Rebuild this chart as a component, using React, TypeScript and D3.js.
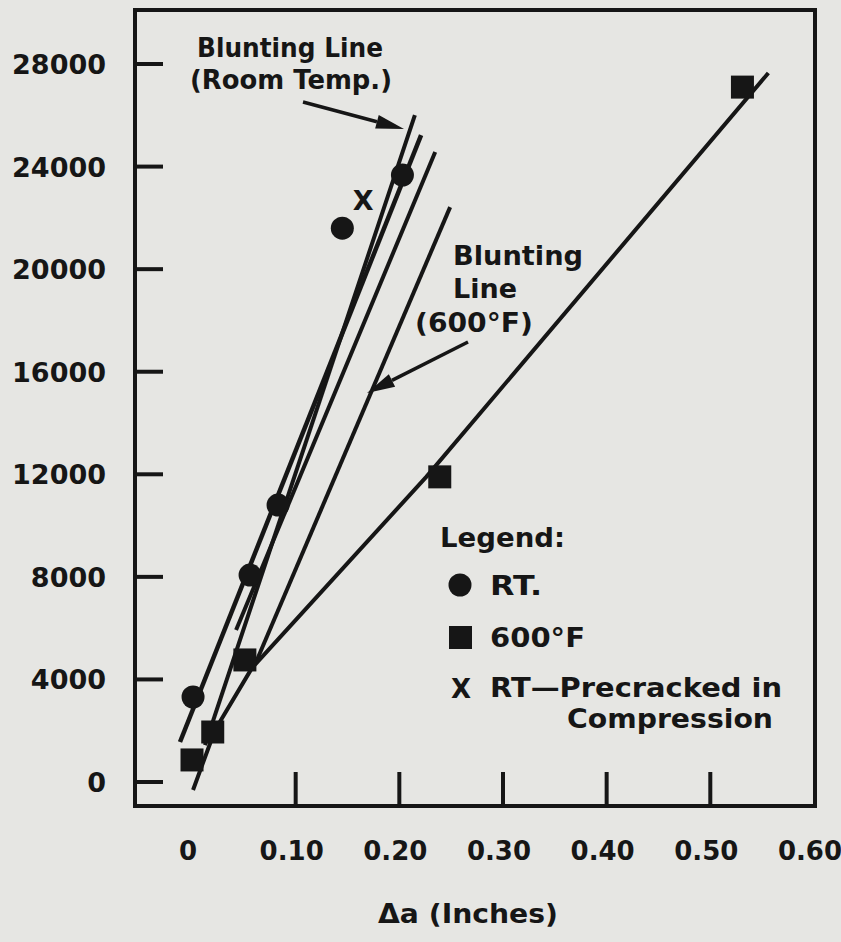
import React from 'react';
import * as d3 from 'd3';

// ---- data ----
const xTickValues = [0, 0.1, 0.2, 0.3, 0.4, 0.5, 0.6];
const xTickLabels = ['0', '0.10', '0.20', '0.30', '0.40', '0.50', '0.60'];
const xMarkedTicks = [0.1, 0.2, 0.3, 0.4, 0.5];
const yTickValues = [0, 4000, 8000, 12000, 16000, 20000, 24000, 28000];
const yTickLabels = ['0', '4000', '8000', '12000', '16000', '20000', '24000', '28000'];

const rtX = [0.001, 0.056, 0.083, 0.145, 0.203];
const rtY = [3315, 8070, 10800, 21600, 23670];
const f600X = [0.0, 0.02, 0.051, 0.239, 0.531];
const f600Y = [860, 1950, 4760, 11900, 27100];
const rtPcX = [0.165];
const rtPcY = [22700];

const rtBluntX = [0.0125, 0.215];
const rtBluntY = [1440, 26010];
const rtFitX = [-0.0116, 0.221];
const rtFitY = [1560, 25230];
const rtFit2X = [0.0425, 0.2346];
const rtFit2Y = [5930, 24570];
const f600BluntX = [0.0618, 0.249];
const f600BluntY = [4680, 22420];
const f600CurveX = [0.001, 0.0222, 0.0579, 0.226, 0.556];
const f600CurveY = [-310, 2030, 4450, 11900, 27650];

// ---- layout ----
const W = 841;
const H = 942;
const L = 135, R = 815, T = 10, B = 806;
const INK = '#161616';
const BG = '#e6e6e3';
const FONT = '"DejaVu Sans", Arial, sans-serif';

const x = d3.scaleLinear().domain([-0.055, 0.601]).range([L, R]);
const y = d3.scaleLinear().domain([-936, 30107]).range([B, T]);

const line = d3.line<[number, number]>().x(d => x(d[0])).y(d => y(d[1]));

const zip = (a: number[], b: number[]) => a.map((v, i) => [v, b[i]] as [number, number]);

function Arrow({ x1, y1, x2, y2 }: { x1: number; y1: number; x2: number; y2: number }) {
  const ang = Math.atan2(y2 - y1, x2 - x1);
  const len = 28;
  const hw = 7;
  const bx = x2 - len * Math.cos(ang);
  const by = y2 - len * Math.sin(ang);
  const px = -Math.sin(ang) * hw;
  const py = Math.cos(ang) * hw;
  return (
    <g>
      <line x1={x1} y1={y1} x2={bx} y2={by} stroke={INK} strokeWidth={3.5} />
      <polygon points={`${x2},${y2} ${bx + px},${by + py} ${bx - px},${by - py}`} fill={INK} />
    </g>
  );
}

export default function App() {
  const txt = { fontFamily: FONT, fontWeight: 700, fontSize: 26, fill: INK } as const;
  return (
    <svg
      width={W}
      height={H}
      viewBox={`0 0 ${W} ${H}`}
      style={{ position: 'absolute', left: 0, top: 0, display: 'block' }}
    >
      <rect x={0} y={0} width={W} height={H} fill={BG} />

      {/* frame */}
      <rect x={L} y={T} width={R - L} height={B - T} fill="none" stroke={INK} strokeWidth={4} />

      {/* y ticks */}
      {yTickValues.map((v, i) => (
        <g key={'y' + v}>
          <line x1={L} x2={L + 28} y1={y(v)} y2={y(v)} stroke={INK} strokeWidth={4} />
          <text {...txt} fontSize={27} x={106} y={y(v) + 10} textAnchor="end">
            {yTickLabels[i]}
          </text>
        </g>
      ))}

      {/* x ticks */}
      {xMarkedTicks.map(v => (
        <line key={'xt' + v} x1={x(v)} x2={x(v)} y1={B} y2={B - 34} stroke={INK} strokeWidth={4} />
      ))}
      {xTickValues.map((v, i) => (
        <text key={'xl' + v} {...txt} fontSize={26} x={x(v) - 4} y={860} textAnchor="middle">
          {xTickLabels[i]}
        </text>
      ))}
      <text {...txt} fontWeight={600} fontSize={26} x={378} y={923} textLength={180} lengthAdjust="spacingAndGlyphs">
        Δa (Inches)
      </text>

      {/* lines */}
      <path d={line(zip(rtBluntX, rtBluntY)) || ''} fill="none" stroke={INK} strokeWidth={4} />
      <path d={line(zip(rtFitX, rtFitY)) || ''} fill="none" stroke={INK} strokeWidth={4.5} />
      <path d={line(zip(rtFit2X, rtFit2Y)) || ''} fill="none" stroke={INK} strokeWidth={4} />
      <path d={line(zip(f600BluntX, f600BluntY)) || ''} fill="none" stroke={INK} strokeWidth={4} />
      <path
        d={line(zip(f600CurveX, f600CurveY)) || ''}
        fill="none"
        stroke={INK}
        strokeWidth={4}
        strokeLinejoin="round"
      />

      {/* points */}
      {rtX.map((v, i) => (
        <circle key={'rt' + i} cx={x(v)} cy={y(rtY[i])} r={11.5} fill={INK} />
      ))}
      {f600X.map((v, i) => (
        <rect key={'sq' + i} x={x(v) - 11.5} y={y(f600Y[i]) - 11.5} width={23} height={23} fill={INK} />
      ))}
      {rtPcX.map((v, i) => (
        <text key={'x' + i} {...txt} fontSize={27} x={x(v)} y={y(rtPcY[i]) + 10} textAnchor="middle">
          X
        </text>
      ))}

      {/* annotation: RT blunting */}
      <text {...txt} x={197} y={57} textLength={186} lengthAdjust="spacingAndGlyphs">
        Blunting Line
      </text>
      <text {...txt} x={190} y={89} textLength={202} lengthAdjust="spacingAndGlyphs">
        (Room Temp.)
      </text>
      <Arrow x1={303} y1={102} x2={404} y2={129} />

      {/* annotation: 600F blunting */}
      <text {...txt} x={453} y={265} textLength={130} lengthAdjust="spacingAndGlyphs">
        Blunting
      </text>
      <text {...txt} x={453} y={298} textLength={64} lengthAdjust="spacingAndGlyphs">
        Line
      </text>
      <text {...txt} x={415} y={332} textLength={118} lengthAdjust="spacingAndGlyphs">
        (600°F)
      </text>
      <Arrow x1={468} y1={342} x2={367} y2={393} />

      {/* legend */}
      <text {...txt} x={440} y={547} textLength={125} lengthAdjust="spacingAndGlyphs">
        Legend:
      </text>
      <circle cx={460} cy={585} r={11.5} fill={INK} />
      <text {...txt} x={490} y={595} textLength={52} lengthAdjust="spacingAndGlyphs">
        RT.
      </text>
      <rect x={449} y={626} width={23} height={23} fill={INK} />
      <text {...txt} x={490} y={647} textLength={95} lengthAdjust="spacingAndGlyphs">
        600°F
      </text>
      <text {...txt} x={461} y={698} textAnchor="middle">
        X
      </text>
      <text {...txt} x={490} y={697} textLength={292} lengthAdjust="spacingAndGlyphs">
        RT—Precracked in
      </text>
      <text {...txt} x={567} y={728} textLength={206} lengthAdjust="spacingAndGlyphs">
        Compression
      </text>
    </svg>
  );
}
